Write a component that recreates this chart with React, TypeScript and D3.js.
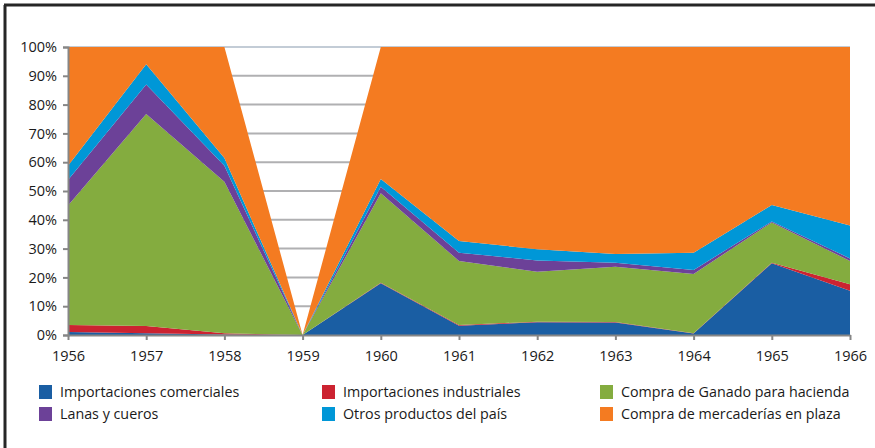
import React, { useEffect, useRef } from 'react'
import * as d3 from 'd3'

const years = ['1956', '1957', '1958', '1959', '1960', '1961', '1962', '1963', '1964', '1965', '1966']

const comerciales = [1.0, 0.6, 0.2, 0, 18.0, 3.2, 4.4, 4.3, 0.5, 24.9, 15.4]
const industriales = [2.5, 2.5, 0.4, 0, 0.1, 0.3, 0.2, 0.2, 0.1, 0.2, 2.2]
const ganado = [41.5, 73.6, 52.6, 0, 31.1, 22.2, 17.4, 19.2, 20.6, 14.0, 8.1]
const lanas = [8.8, 10.3, 5.6, 0, 2.3, 2.9, 3.9, 1.4, 1.4, 0.3, 0.9]
const otros = [5.0, 7.0, 2.7, 0, 2.7, 4.0, 3.9, 3.0, 6.0, 5.7, 11.4]
const plaza = [41.2, 6.0, 38.5, 0, 45.8, 67.4, 70.2, 71.9, 71.4, 54.9, 62.0]

const seriesNames = [
  'Importaciones comerciales',
  'Importaciones industriales',
  'Compra de Ganado para hacienda',
  'Lanas y cueros',
  'Otros productos del país',
  'Compra de mercaderías en plaza',
]
const seriesValues = [comerciales, industriales, ganado, lanas, otros, plaza]
const colors = ['#1a5ea3', '#cc2331', '#84ac3f', '#6c4198', '#0097d7', '#f47b21']

const App = () => {
  const svgRef = useRef<SVGSVGElement>(null)

  useEffect(() => {
    const svg = d3.select(svgRef.current)
    svg.selectAll('*').remove()
    const font = "'Open Sans', sans-serif"

    const left = 68, right = 850, top = 47, bottom = 335

    const table = years.map((y, i) => {
      const row: any = { year: y }
      seriesNames.forEach((n, k) => { row[n] = seriesValues[k][i] })
      return row
    })
    const stacked = d3.stack().keys(seriesNames).offset(d3.stackOffsetExpand)(table)

    const x = d3.scalePoint().domain(years).range([left, right])
    const y = d3.scaleLinear().domain([0, 1]).range([bottom, top])

    // frame
    svg.append('line').attr('x1', 5).attr('x2', 5).attr('y1', 5).attr('y2', 448)
      .attr('stroke', '#262626').attr('stroke-width', 3)
    svg.append('line').attr('x1', 4).attr('x2', 875).attr('y1', 5).attr('y2', 5)
      .attr('stroke', '#262626').attr('stroke-width', 3)

    // gridlines
    const ticks = d3.range(0, 1.01, 0.1)
    svg.append('g').selectAll('line').data(ticks.slice(1)).join('line')
      .attr('x1', left).attr('x2', right)
      .attr('y1', d => y(d)).attr('y2', d => y(d))
      .attr('stroke', (d, i) => i === ticks.length - 2 ? '#c3ccd6' : '#b0b0b2')
      .attr('stroke-width', 2)

    const area = d3.area<any>()
      .x((d: any) => x(d.data.year)!)
      .y0((d: any) => y(d[0]))
      .y1((d: any) => y(d[1]))

    svg.append('g').selectAll('path').data(stacked).join('path')
      .attr('d', area as any)
      .attr('fill', (d, i) => colors[i])

    // y axis
    const yAxis = d3.axisLeft(y).tickValues(ticks).tickFormat(d3.format('.0%')).tickSize(5).tickPadding(6)
    const gy = svg.append('g').attr('transform', `translate(${left},0)`).call(yAxis)
    gy.select('.domain').attr('stroke', '#868686').attr('stroke-width', 2)
    gy.selectAll('.tick line').attr('stroke', '#868686').attr('stroke-width', 2)
    gy.selectAll('text').attr('font-family', font).attr('font-size', 14.5).attr('fill', '#1a1a1a')

    // x axis
    const xAxis = d3.axisBottom(x).tickSize(5).tickPadding(11).tickSizeOuter(0)
    const gx = svg.append('g').attr('transform', `translate(0,${bottom})`).call(xAxis)
    gx.select('.domain').attr('stroke', '#868686').attr('stroke-width', 2)
    gx.selectAll('.tick line').attr('stroke', '#868686').attr('stroke-width', 2)
    gx.selectAll('text').attr('font-family', font).attr('font-size', 14.5).attr('fill', '#1a1a1a')

    // legend
    const colX = [39, 322, 600]
    const rowY = [392, 414]
    const legendOrder = [0, 1, 2, 3, 4, 5]
    const lg = svg.append('g').selectAll('g').data(legendOrder).join('g')
      .attr('transform', (d, i) => `translate(${colX[i % 3]},${rowY[Math.floor(i / 3)]})`)
    lg.append('rect').attr('x', 0).attr('y', -7).attr('width', 13).attr('height', 14)
      .attr('fill', d => colors[d])
    lg.append('text').attr('x', 21).attr('y', 0).attr('dy', '0.35em')
      .attr('font-family', font).attr('font-size', 14.3).attr('fill', '#1a1a1a')
      .text(d => seriesNames[d])
  }, [])

  return (
    <svg ref={svgRef} width={875} height={448}
      style={{ position: 'absolute', left: 0, top: 0, background: '#fff' }} />
  )
}

export default App
